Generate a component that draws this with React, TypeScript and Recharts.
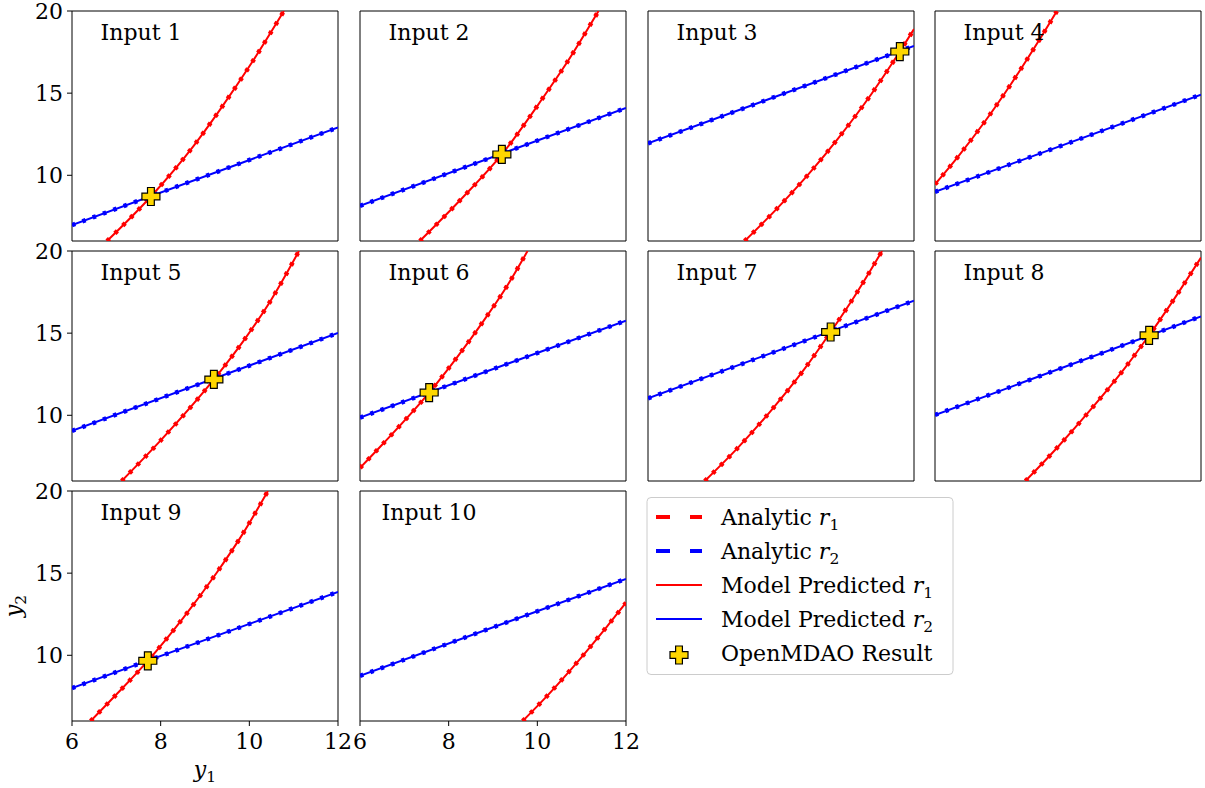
import React from "react";
import { ComposedChart, Line, Scatter, XAxis, YAxis, ReferenceArea } from "recharts";

const FONT = "DejaVu Serif";

const titles = [
  "Input 1", "Input 2", "Input 3", "Input 4", "Input 5",
  "Input 6", "Input 7", "Input 8", "Input 9", "Input 10",
];

// r2 is a straight line: y2 read at y1 = 6 and at y1 = 12
const r2Ends = [6, 12];
const r2Left = [6.97, 8.14, 11.94, 8.99, 9.05, 9.86, 11.03, 10.02, 8.0, 8.75];
const r2Right = [12.91, 14.1, 17.88, 14.91, 15.01, 15.76, 16.97, 16.02, 13.86, 14.65];

// r1 curve: y1 samples and the matching y2
const r1Y1 = [
  [6.79, 7.78, 8.74, 9.34, 10.05, 10.78],
  [7.35, 8.3, 9.2, 10.1, 10.66, 11.38],
  [8.18, 8.93, 9.68, 10.29, 11.04, 11.68, 12.0],
  [6.0, 6.53, 7.13, 7.73, 8.33, 8.75],
  [7.12, 7.99, 9.2, 9.86, 10.47, 11.12],
  [6.0, 6.53, 7.56, 8.18, 8.78, 9.31, 9.78],
  [7.28, 8.03, 8.78, 9.53, 10.12, 10.66, 11.28],
  [8.04, 8.78, 9.53, 10.29, 10.83, 11.34, 12.0],
  [6.42, 7.01, 7.71, 8.51, 9.26, 9.79, 10.42],
  [9.67, 10.06, 10.81, 11.57, 12.0],
];
const r1Y2 = [
  [6.0, 8.71, 11.78, 14.0, 16.83, 20.0],
  [6.0, 8.6, 11.27, 14.61, 16.83, 20.0],
  [6.0, 8.03, 10.25, 12.25, 14.95, 17.53, 18.9],
  [9.45, 11.17, 13.29, 15.62, 18.14, 20.0],
  [6.0, 8.44, 12.18, 14.5, 16.93, 20.0],
  [6.8, 8.3, 11.38, 13.5, 15.72, 17.84, 20.0],
  [6.0, 8.03, 10.3, 12.82, 15.07, 17.25, 20.0],
  [6.0, 8.1, 10.4, 12.9, 14.87, 16.86, 19.6],
  [6.0, 7.64, 9.66, 12.28, 15.01, 17.13, 20.0],
  [6.0, 7.07, 9.3, 11.75, 13.2],
];

// OpenMDAO converged point (none in view for inputs 4 and 10)
const resultY1 = [7.78, 9.2, 11.68, null, 9.2, 7.56, 10.12, 10.83, 7.71, null];
const resultY2 = [8.71, 11.27, 17.53, null, 12.18, 11.38, 15.07, 14.87, 9.66, null];

const xTicks = [6, 8, 10, 12];
const yTicks = [10, 15, 20];

const COL_LEFT = [72, 360, 648, 935];
const ROW_TOP = [11, 251, 491];
const PLOT_W = 266;
const PLOT_H = 230;
const PAD = 16;

const plusPath = (cx: number, cy: number, a = 9, b = 3.4) =>
  `M${cx - b},${cy - a}H${cx + b}V${cy - b}H${cx + a}V${cy + b}H${cx + b}V${cy + a}H${cx - b}V${cy + b}H${cx - a}V${cy - b}H${cx - b}Z`;

const PlusShape = (props: any) => (
  <path d={plusPath(props.cx, props.cy)} fill="#ffd700" stroke="#000" strokeWidth={1.2} />
);

function Panel({ i }: { i: number }) {
  const col = i % 4;
  const row = Math.floor(i / 4);
  const showY = col === 0;
  const showX = row === 2;
  const yW = showY ? 72 : 0;
  const xH = showX ? 40 : 0;
  const red = r1Y1[i].map((x, k) => ({ x, y: r1Y2[i][k] }));
  const blue = r2Ends.map((x, k) => ({ x, y: k === 0 ? r2Left[i] : r2Right[i] }));
  const res = resultY1[i] == null ? [] : [{ x: resultY1[i], y: resultY2[i] }];
  const tickStyle = { fill: "#000", fontSize: 22, fontFamily: FONT };

  return (
    <div style={{ position: "absolute", left: COL_LEFT[col] - yW - PAD, top: ROW_TOP[row] - PAD }}>
      <ComposedChart
        width={yW + PLOT_W + 2 * PAD}
        height={PLOT_H + xH + 2 * PAD}
        margin={{ top: PAD, right: PAD, bottom: PAD, left: PAD }}
      >
        <XAxis
          type="number"
          dataKey="x"
          domain={[6, 12]}
          ticks={xTicks}
          interval={0}
          allowDataOverflow
          hide={!showX}
          height={xH}
          axisLine={false}
          tickLine={{ stroke: "#000" }}
          tickSize={5}
          tickMargin={7}
          tick={tickStyle}
        />
        <YAxis
          type="number"
          dataKey="y"
          domain={[6, 20]}
          ticks={yTicks}
          interval={0}
          allowDataOverflow
          hide={!showY}
          width={yW}
          axisLine={false}
          tickLine={{ stroke: "#000" }}
          tickSize={5}
          tickMargin={4}
          tick={tickStyle}
        />
        <Line data={red} dataKey="y" type="monotone" stroke="#ff0000" strokeWidth={2} dot={false} isAnimationActive={false} />
        <Line data={blue} dataKey="y" type="linear" stroke="#0000ff" strokeWidth={2} dot={false} isAnimationActive={false} />
        <Line data={red} dataKey="y" type="monotone" stroke="#ff0000" strokeWidth={4.5} strokeDasharray="3.5 7.5" dot={false} isAnimationActive={false} />
        <Line data={blue} dataKey="y" type="linear" stroke="#0000ff" strokeWidth={4.5} strokeDasharray="3.5 7.5" dot={false} isAnimationActive={false} />
        <ReferenceArea x1={6} x2={12} y1={6} y2={20} fill="none" stroke="#000" strokeWidth={1} />
        <Scatter data={res} dataKey="y" shape={<PlusShape />} isAnimationActive={false} />
      </ComposedChart>
    </div>
  );
}

const Sub = ({ n }: { n: string }) => (
  <tspan fontSize={15.5} dy={5}>{n}</tspan>
);

function Overlay() {
  const rowY = [525, 559, 593, 627, 661];
  const lx = 656;
  const entries = [
    { kind: "dash", color: "#ff0000", label: "Analytic ", sub: "1" },
    { kind: "dash", color: "#0000ff", label: "Analytic ", sub: "2" },
    { kind: "solid", color: "#ff0000", label: "Model Predicted ", sub: "1" },
    { kind: "solid", color: "#0000ff", label: "Model Predicted ", sub: "2" },
    { kind: "plus", color: "", label: "OpenMDAO Result", sub: "" },
  ];
  return (
    <svg
      width={1205}
      height={788}
      style={{ position: "absolute", left: 0, top: 0, pointerEvents: "none" }}
      fontFamily={FONT}
    >
      {titles.map((t, i) => (
        <text key={t} x={COL_LEFT[i % 4] + 69} y={ROW_TOP[Math.floor(i / 4)] + 28.5} fontSize={22} textAnchor="middle" fill="#000">
          {t}
        </text>
      ))}
      <text x={205} y={777} fontSize={22} textAnchor="middle" fill="#000">
        <tspan fontStyle="italic">y</tspan>
        <Sub n="1" />
      </text>
      <text x={21} y={606} fontSize={22} textAnchor="middle" fill="#000" transform="rotate(-90 21 606)">
        <tspan fontStyle="italic">y</tspan>
        <Sub n="2" />
      </text>
      <rect x={647} y={497.5} width={306} height={177} rx={4} fill="#fff" fillOpacity={0.8} stroke="#cccccc" strokeWidth={1} />
      {entries.map((e, k) => {
        const cy = rowY[k] - 8;
        return (
          <g key={k}>
            {e.kind === "dash" && (
              <line x1={lx} x2={lx + 46} y1={cy} y2={cy} stroke={e.color} strokeWidth={4} strokeDasharray="14 20" />
            )}
            {e.kind === "solid" && (
              <line x1={lx} x2={lx + 46} y1={cy} y2={cy} stroke={e.color} strokeWidth={2} />
            )}
            {e.kind === "plus" && <path d={plusPath(lx + 23, cy + 2)} fill="#ffd700" stroke="#000" strokeWidth={1.2} />}
            <text x={721} y={rowY[k]} fontSize={22} fill="#000">
              <tspan>{e.label}</tspan>
              {e.sub && <tspan fontStyle="italic">r</tspan>}
              {e.sub && <Sub n={e.sub} />}
            </text>
          </g>
        );
      })}
    </svg>
  );
}

export default function App() {
  return (
    <div style={{ position: "absolute", left: 0, top: 0, width: 1205, height: 788, background: "#fff", fontFamily: FONT }}>
      {titles.map((_, i) => (
        <Panel key={i} i={i} />
      ))}
      <Overlay />
    </div>
  );
}
